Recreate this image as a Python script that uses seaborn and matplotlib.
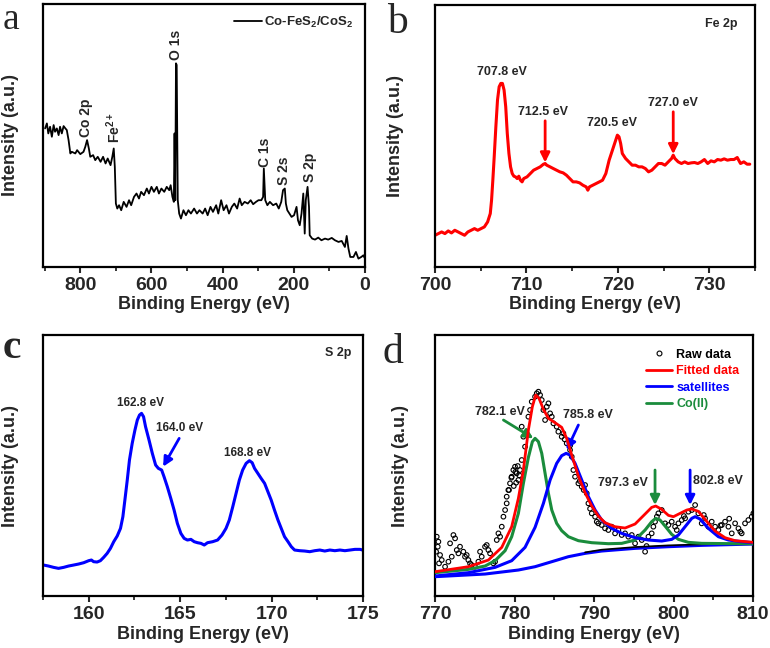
import matplotlib
matplotlib.use("Agg")
import matplotlib.pyplot as plt
from matplotlib.ticker import MultipleLocator
from matplotlib.lines import Line2D
import seaborn as sns

# ------------------------------
# data (intensity in arbitrary units)
# ------------------------------
# (a) survey spectrum
a_energy = [899, 894, 890, 885, 880, 875, 871, 866, 861, 857, 852, 847, 842, 838, 833, 828, 824,
            814, 809, 800, 791, 786, 781, 776, 772, 764, 758, 751, 743, 736, 729, 723, 715, 710,
            706, 703, 700, 696, 691, 685, 678, 670, 663, 657, 649, 642, 635, 629, 621, 613, 607,
            600, 593, 585, 579, 572, 564, 557, 550, 546, 541, 537, 535, 533, 531, 529, 526, 522,
            517, 510, 503, 496, 489, 480, 472, 465, 456, 449, 442, 434, 427, 418, 412, 404, 397,
            389, 382, 374, 367, 359, 352, 346, 338, 329, 321, 314, 306, 299, 291, 286, 284, 280,
            274, 267, 258, 249, 242, 235, 230, 225, 222, 218, 212, 206, 199, 192, 188, 183, 178,
            173, 169, 166, 161, 157, 155, 148, 140, 131, 122, 112, 103, 93, 84, 74, 65, 56, 51,
            46, 41, 32, 25, 18, 10, 4, 1]
a_counts = [415, 430, 400, 420, 390, 425, 405, 415, 395, 420, 400, 422, 415, 410, 380, 340, 345,
            340, 350, 338, 345, 360, 380, 355, 330, 335, 320, 330, 315, 330, 310, 325, 305, 330,
            355, 300, 190, 175, 185, 170, 195, 180, 200, 185, 210, 220, 205, 225, 215, 235, 220,
            240, 225, 240, 220, 235, 225, 240, 230, 245, 210, 195, 400, 200, 610, 605, 200, 160,
            145, 170, 155, 170, 160, 175, 160, 170, 160, 175, 155, 180, 165, 185, 160, 200, 170,
            185, 160, 180, 190, 175, 205, 185, 195, 190, 200, 188, 195, 200, 200, 210, 295, 200,
            185, 195, 185, 190, 175, 195, 230, 235, 190, 170, 160, 150, 155, 180, 140, 125, 160,
            220, 100, 200, 240, 180, 95, 85, 82, 88, 80, 85, 82, 87, 80, 75, 78, 60, 93,
            55, 30, 30, 45, 25, 30, 35, 28]
a_peak_labels = ["Co 2p", "Fe$^{2+}$", "O 1s", "C 1s", "S 2s", "S 2p"]
a_peak_energy = [783, 706, 531, 282, 227, 155]
a_peak_label_y = [390, 370, 620, 300, 245, 255]

# (b) Fe 2p
b_energy = [700.0, 700.36, 700.72, 701.08, 701.44, 701.80, 702.16, 702.52, 702.87, 703.23, 703.59,
            703.95, 704.31, 704.67, 705.03, 705.39, 705.75, 706.04, 706.18, 706.32, 706.47, 706.65,
            706.83, 707.01, 707.19, 707.37, 707.55, 707.73, 707.90, 708.08, 708.26, 708.44, 708.62,
            708.80, 708.98, 709.16, 709.34, 709.52, 709.70, 710.06, 710.42, 710.78, 711.14, 711.50,
            711.86, 712.04, 712.22, 712.58, 712.93, 713.29, 713.65, 714.01, 714.37, 714.73, 715.09,
            715.45, 715.81, 716.17, 716.53, 716.71, 716.89, 717.25, 717.61, 717.97, 718.32, 718.68,
            719.04, 719.40, 719.76, 719.94, 720.12, 720.30, 720.48, 720.84, 721.20, 721.56, 721.92,
            722.28, 722.64, 723.00, 723.35, 723.71, 724.07, 724.43, 724.79, 725.15, 725.51, 725.87,
            726.05, 726.23, 726.59, 726.95, 727.31, 727.67, 728.03, 728.38, 728.74, 729.10, 729.46,
            729.82, 730.18, 730.54, 730.90, 731.26, 731.62, 731.98, 732.34, 732.70, 733.05, 733.41,
            733.77, 734.13, 734.42]
b_counts = [95, 100, 105, 100, 108, 102, 110, 105, 100, 95, 105, 110, 115, 110, 115, 120, 135, 160,
            200, 260, 330, 420, 500, 540, 550, 550, 530, 480, 400, 340, 300, 280, 272, 270, 265,
            272, 260, 255, 265, 270, 280, 290, 295, 300, 308, 310, 305, 300, 295, 290, 285, 282,
            275, 265, 255, 255, 252, 245, 240, 230, 240, 245, 250, 255, 260, 280, 320, 350, 380,
            395, 390, 370, 340, 325, 315, 305, 305, 300, 300, 295, 285, 290, 300, 310, 310, 305,
            315, 325, 335, 325, 315, 310, 315, 310, 312, 313, 310, 315, 322, 310, 318, 315, 322,
            320, 324, 320, 322, 322, 328, 310, 315, 308, 308]

# (c) S 2p
c_energy = [157.53, 157.80, 158.08, 158.35, 158.63, 158.90, 159.18, 159.45, 159.73, 160.00, 160.15,
            160.27, 160.46, 160.64, 160.82, 161.01, 161.19, 161.37, 161.56, 161.74, 161.87, 161.98,
            162.11, 162.23, 162.38, 162.53, 162.66, 162.78, 162.89, 163.00, 163.11, 163.30, 163.48,
            163.66, 163.81, 163.99, 164.12, 164.30, 164.49, 164.67, 164.85, 165.04, 165.22, 165.40,
            165.59, 165.77, 165.95, 166.14, 166.32, 166.50, 166.78, 167.05, 167.29, 167.51, 167.69,
            167.88, 168.06, 168.24, 168.42, 168.61, 168.79, 168.94, 169.07, 169.25, 169.43, 169.62,
            169.80, 169.98, 170.16, 170.35, 170.53, 170.71, 170.90, 171.08, 171.26, 171.54, 171.81,
            172.09, 172.36, 172.64, 172.91, 173.19, 173.46, 173.74, 174.01, 174.29, 174.56, 174.84,
            174.98]
c_counts = [93, 90, 86, 83, 86, 90, 93, 96, 100, 106, 108, 103, 102, 106, 116, 128, 143, 163, 180,
            203, 238, 288, 348, 408, 458, 498, 528, 543, 548, 538, 508, 468, 428, 393, 383, 378,
            358, 328, 293, 258, 218, 188, 173, 168, 170, 163, 160, 158, 153, 160, 163, 168, 183,
            203, 228, 268, 308, 348, 378, 398, 406, 400, 383, 368, 353, 338, 313, 288, 258, 228,
            203, 178, 163, 148, 138, 136, 135, 133, 136, 138, 135, 138, 136, 138, 136, 138, 140,
            140, 138]

# (d) Co 2p
d_raw_energy = [770.21, 770.42, 770.34, 770.13, 770.63, 770.84, 770.50, 771.26, 771.68, 772.10,
                771.89, 772.31, 772.52, 772.73, 772.94, 773.14, 773.56, 773.77, 773.98, 774.19,
                774.40, 774.61, 775.03, 775.45, 775.66, 775.87, 776.29, 776.50, 776.71, 776.92,
                777.34, 777.55, 777.76, 777.97, 778.18, 778.39, 778.60, 778.81, 779.01, 779.01,
                779.22, 779.43, 779.64, 779.85, 780.06, 780.27, 780.48, 780.69, 780.90, 781.11,
                780.90, 781.32, 781.74, 781.95, 782.16, 782.58, 782.79, 783.00, 783.21, 783.42,
                783.63, 783.84, 784.05, 784.26, 784.47, 784.68, 784.89, 785.30, 785.51, 785.93,
                786.14, 786.56, 786.98, 787.19, 787.40, 787.61, 788.03, 788.45, 788.87, 789.08,
                789.29, 789.71, 790.13, 790.34, 790.54, 790.96, 791.38, 791.80, 792.22, 792.64,
                793.06, 793.48, 793.90, 794.32, 794.74, 795.16, 795.58, 796.00, 796.42, 796.84,
                797.25, 797.46, 797.67, 798.09, 798.51, 798.93, 799.35, 799.77, 800.19, 800.61,
                801.03, 801.45, 801.87, 802.29, 802.71, 803.12, 803.54, 803.96, 804.38, 804.80,
                805.22, 805.64, 806.06, 806.48, 806.90, 807.32, 807.74, 808.16, 808.57, 808.99,
                809.41, 809.83, 810.04,
                779.30, 779.60, 780.20, 780.40, 779.90, 780.60, 780.10, 786.30, 787.00, 788.20,
                788.70, 789.50, 796.60, 797.90, 800.40, 801.30, 803.80, 805.90, 807.00, 808.40]
d_raw_counts = [178, 163, 148, 133, 123, 108, 98, 88, 103, 118, 158, 183, 173, 138, 128, 148, 133,
                118, 123, 108, 98, 93, 88, 103, 133, 118, 148, 153, 138, 128, 98, 103, 168, 188,
                178, 208, 238, 258, 278, 298, 318, 338, 358, 378, 388, 368, 348, 378, 408, 478,
                508, 448, 538, 558, 583, 598, 608, 613, 603, 588, 558, 528, 568, 578, 548, 538,
                518, 508, 493, 478, 488, 458, 438, 418, 378, 358, 338, 328, 333, 308, 278, 248,
                238, 223, 218, 213, 203, 198, 208, 188, 198, 183, 188, 178, 183, 158, 178, 168,
                133, 178, 188, 208, 223, 248, 258, 218, 213, 223, 208, 218, 228, 233, 253, 258,
                273, 248, 218, 233, 208, 223, 208, 198, 213, 223, 208, 188, 218, 203, 188, 218,
                228, 238, 248,
                318, 355, 340, 390, 330, 362, 372, 470, 452, 345, 318, 262, 150, 238, 198, 240,
                243, 212, 232, 193]
d_fit_energy = [770.0, 774.19, 776.71, 778.39, 779.64, 780.48, 781.11, 781.74, 782.24, 782.66,
                783.08, 783.63, 784.26, 785.09, 785.93, 786.56, 787.19, 788.03, 788.87, 789.71,
                790.54, 791.38, 792.64, 793.90, 795.16, 796.42, 797.25, 797.76, 798.51, 799.35,
                799.98, 800.82, 801.66, 802.29, 803.12, 803.96, 805.22, 806.48, 807.74, 810.04]
d_fit_counts = [73, 88, 108, 146, 208, 293, 378, 498, 568, 603, 593, 560, 533, 520, 506, 473, 423,
                360, 310, 270, 240, 220, 208, 204, 216, 246, 266, 270, 260, 242, 238, 248, 258,
                261, 254, 230, 195, 175, 166, 161]
d_sat_energy = [770.0, 774.19, 777.55, 779.64, 781.32, 782.58, 783.63, 784.47, 785.30, 785.93,
                786.48, 786.98, 787.61, 788.45, 789.29, 790.13, 790.96, 792.22, 793.48, 795.16,
                796.84, 798.51, 799.77, 800.61, 801.45, 802.29, 802.71, 803.33, 804.38, 805.64,
                806.90, 808.57, 810.04]
d_sat_counts = [60, 70, 86, 106, 146, 206, 278, 348, 398, 421, 428, 423, 398, 348, 298, 258, 228,
                203, 188, 175, 168, 165, 170, 183, 208, 233, 238, 231, 203, 178, 168, 163, 160]
d_co_energy = [770.0, 774.19, 776.29, 777.55, 778.81, 779.64, 780.48, 781.11, 781.74, 782.24,
               782.58, 783.00, 783.42, 783.84, 784.26, 784.68, 785.30, 785.93, 786.77, 788.03,
               789.71, 791.80, 793.48, 795.16, 796.42, 797.25, 797.76, 798.30, 798.93, 799.77,
               800.61, 801.87, 803.54, 807.74, 810.04]
d_co_counts = [70, 80, 90, 106, 136, 178, 248, 338, 416, 463, 473, 463, 428, 368, 308, 258, 218,
               196, 178, 166, 160, 157, 158, 168, 198, 223, 233, 228, 210, 185, 170, 161, 158,
               157, 157]
d_bg_energy = [770.0, 776.29, 780.48, 782.58, 784.68, 786.77, 788.87, 790.96, 795.16, 799.35,
               803.54, 810.04]
d_bg_counts = [58, 66, 78, 88, 103, 118, 128, 135, 143, 148, 152, 156]
d_bg2_energy = [788.87, 790.96, 795.16, 799.35, 803.54, 810.04]
d_bg2_counts = [131, 139, 147, 152, 155, 159]

# ------------------------------
# style
# ------------------------------
sns.set_style("ticks")
plt.rcParams['font.family'] = ['Liberation Sans', 'DejaVu Sans']
plt.rcParams['font.weight'] = 'bold'
plt.rcParams['axes.labelweight'] = 'bold'
plt.rcParams['mathtext.fontset'] = 'custom'
plt.rcParams['mathtext.rm'] = 'Liberation Sans:bold'
plt.rcParams['mathtext.default'] = 'rm'

green = "#1a8c3c"

fig = plt.figure(figsize=(7.7, 6.48), dpi=100)
ax_a = fig.add_axes([0.0558, 0.588, 0.418, 0.406])
ax_b = fig.add_axes([0.565, 0.588, 0.4156, 0.4043])
ax_c = fig.add_axes([0.0558, 0.0802, 0.4156, 0.4028])
ax_d = fig.add_axes([0.565, 0.0802, 0.413, 0.4028])


def style_axis(ax, major, minor, pad):
    for s in ax.spines.values():
        s.set_linewidth(1.6)
        s.set_color("black")
    ax.set_yticks([])
    ax.xaxis.set_major_locator(MultipleLocator(major))
    ax.xaxis.set_minor_locator(MultipleLocator(minor))
    ax.tick_params(axis='x', which='major', direction='out', length=4, width=1.5,
                   labelsize=14, pad=3.5)
    ax.tick_params(axis='x', which='minor', direction='out', length=3, width=1.3)
    ax.set_xlabel("Binding Energy (eV)", fontsize=13, labelpad=1.5)
    ax.set_ylabel("Intensity (a.u.)", fontsize=13, labelpad=pad)


def arrow(ax, tail, tip, color):
    ax.annotate("", xy=tip, xytext=tail,
                arrowprops=dict(arrowstyle='-|>', color=color, lw=2, mutation_scale=14,
                                shrinkA=0, shrinkB=0))


# ------------------------------
# a: survey
# ------------------------------
sns.lineplot(x=a_energy, y=a_counts, color="black", lw=1.3, ax=ax_a,
             estimator=None, sort=False, label="Co-FeS$_2$/CoS$_2$")
ax_a.set_xlim(905, 0)
ax_a.set_ylim(0, 788)
style_axis(ax_a, 200, 100, 17)
for lab, xe, ye in zip(a_peak_labels, a_peak_energy, a_peak_label_y):
    ax_a.text(xe, ye, lab, rotation=90, ha='center', va='bottom', fontsize=10, fontweight='bold')
ax_a.legend(loc='upper right', frameon=False, fontsize=9.5, handlelength=2.1,
            handletextpad=0.2, borderaxespad=0.45)

# ------------------------------
# b: Fe 2p
# ------------------------------
sns.lineplot(x=b_energy, y=b_counts, color="#ff0000", lw=2.2, ax=ax_b, estimator=None, sort=False)
ax_b.set_xlim(700, 735)
ax_b.set_ylim(0, 785)
style_axis(ax_b, 10, 5, 22)
ax_b.text(707.37, 585, "707.8 eV", ha='center', va='center', fontsize=9)
ax_b.text(711.86, 465, "712.5 eV", ha='center', va='center', fontsize=9)
ax_b.text(719.40, 430, "720.5 eV", ha='center', va='center', fontsize=9)
ax_b.text(726.05, 490, "727.0 eV", ha='center', va='center', fontsize=9)
ax_b.text(731.26, 728, "Fe 2p", ha='center', va='center', fontsize=9)
arrow(ax_b, (712.04, 438), (712.04, 313), "#ff0000")
arrow(ax_b, (726.05, 465), (726.05, 338), "#ff0000")

# ------------------------------
# c: S 2p
# ------------------------------
sns.lineplot(x=c_energy, y=c_counts, color="#0000ff", lw=2.2, ax=ax_c, estimator=None, sort=False)
ax_c.set_xlim(157.5, 175)
ax_c.set_ylim(0, 783)
style_axis(ax_c, 5, 2.5, 17)
ax_c.text(162.84, 580, "162.8 eV", ha='center', va='center', fontsize=8.5)
ax_c.text(164.95, 503, "164.0 eV", ha='center', va='center', fontsize=8.5)
ax_c.text(168.70, 430, "168.8 eV", ha='center', va='center', fontsize=8.5)
ax_c.text(173.64, 728, "S 2p", ha='center', va='center', fontsize=9)
arrow(ax_c, (164.95, 473), (164.07, 388), "#0000ff")

# ------------------------------
# d: Co 2p
# ------------------------------
sns.scatterplot(x=d_raw_energy, y=d_raw_counts, marker='o', s=11, facecolors='none',
                edgecolor='black', linewidth=0.8, ax=ax_d, zorder=2)
sns.lineplot(x=d_bg_energy, y=d_bg_counts, color="#0000ff", lw=2.2, ax=ax_d,
             estimator=None, sort=False, zorder=3)
sns.lineplot(x=d_bg2_energy, y=d_bg2_counts, color="black", lw=1.2, ax=ax_d,
             estimator=None, sort=False, zorder=3)
sns.lineplot(x=d_co_energy, y=d_co_counts, color=green, lw=2.2, ax=ax_d,
             estimator=None, sort=False, zorder=4)
sns.lineplot(x=d_sat_energy, y=d_sat_counts, color="#0000ff", lw=2.2, ax=ax_d,
             estimator=None, sort=False, zorder=5)
sns.lineplot(x=d_fit_energy, y=d_fit_counts, color="#ff0000", lw=2, ax=ax_d,
             estimator=None, sort=False, zorder=6)
ax_d.set_xlim(770, 810)
ax_d.set_ylim(0, 783)
style_axis(ax_d, 10, 5, 19)
ax_d.text(778.18, 553, "782.1 eV", ha='center', va='center', fontsize=9)
ax_d.text(789.29, 543, "785.8 eV", ha='center', va='center', fontsize=9)
ax_d.text(793.69, 340, "797.3 eV", ha='center', va='center', fontsize=9)
ax_d.text(805.64, 345, "802.8 eV", ha='center', va='center', fontsize=9)
arrow(ax_d, (778.60, 528), (782.37, 473), green)
arrow(ax_d, (788.03, 513), (786.56, 438), "#0000ff")
arrow(ax_d, (797.67, 378), (797.67, 273), green)
arrow(ax_d, (802.08, 378), (802.08, 273), "#0000ff")

handles = [Line2D([], [], ls='none', marker='o', ms=3.5, mfc='none', mec='black', mew=0.8),
           Line2D([], [], color="#ff0000", lw=2),
           Line2D([], [], color="#0000ff", lw=2),
           Line2D([], [], color=green, lw=2)]
ax_d.legend(handles, ["Raw data", "Fitted data", "satellites", "Co(II)"],
            labelcolor=["black", "#ff0000", "#0000ff", green], loc='upper right',
            frameon=False, fontsize=9, handlelength=2.1, handletextpad=0.3,
            labelspacing=0.35, borderaxespad=0.7)

# panel letters (baseline positions)
letters = [("a", 0.004, 0.956, 27, 'normal'), ("b", 0.502, 0.949, 30, 'normal'),
           ("c", 0.004, 0.4475, 30, 'bold'), ("d", 0.497, 0.4398, 30, 'normal')]
for lab, xf, yf, fs, wt in letters:
    fig.text(xf, yf, lab, ha='left', va='baseline', fontsize=fs, fontweight=wt,
             family=['Liberation Serif', 'DejaVu Serif'])

plt.savefig("out.png", dpi=100)
